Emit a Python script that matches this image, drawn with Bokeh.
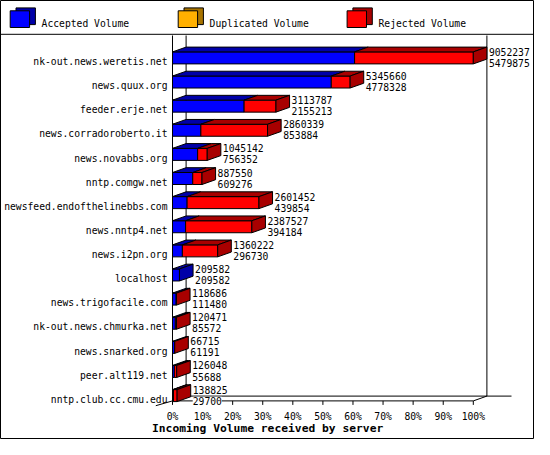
"""Incoming volume received by server: innreport-style 3D stacked bars."""

from bokeh.core.properties import value
from bokeh.embed import file_html
from bokeh.models import ColumnDataSource, Range1d
from bokeh.plotting import figure
from bokeh.resources import INLINE

servers = [
    "nk-out.news.weretis.net",
    "news.quux.org",
    "feeder.erje.net",
    "news.corradoroberto.it",
    "news.novabbs.org",
    "nntp.comgw.net",
    "newsfeed.endofthelinebbs.com",
    "news.nntp4.net",
    "news.i2pn.org",
    "localhost",
    "news.trigofacile.com",
    "nk-out.news.chmurka.net",
    "news.snarked.org",
    "peer.alt119.net",
    "nntp.club.cc.cmu.edu",
]
total = [9052237, 5345660, 3113787, 2860339, 1045142, 887550, 2601452,
         2387527, 1360222, 209582, 118686, 120471, 66715, 126048, 138825]
accepted = [5479875, 4778328, 2155213, 853884, 756352, 609276, 439854,
            394184, 296730, 209582, 111480, 85572, 61191, 55688, 29700]

pct_ticks = [0, 10, 20, 30, 40, 50, 60, 70, 80, 90, 100]
tick_labels = [f"{t}%" for t in pct_ticks]
legend_labels = ["Accepted Volume", "Duplicated Volume", "Rejected Volume"]
title_text = "Incoming Volume received by server"

BLUE, BLUE_D = "#0000FF", "#0000A8"
ORANGE, ORANGE_D = "#FFB000", "#A87400"
RED, RED_D = "#FF0000", "#A80000"
legend_colors = [(BLUE, BLUE_D), (ORANGE, ORANGE_D), (RED, RED_D)]

MONO = value("DejaVu Sans Mono")
FS = value("9.7px")

# canvas geometry (pixels); the data space is percent across, rows down
W, H = 534, 439
X0 = 172            # pixel of 0 %
PX = 3.008          # pixels per percent
ROW0, ROWH = 57.4, 24.12   # centre of first row, row pitch


def xd(px):
    return (px - X0) / PX


def yd(px):
    return (px - ROW0) / ROWH


DX = 13.6 / PX      # 3D depth, percent
DY = 4.8 / ROWH     # 3D depth, rows
HH = 6.0 / ROWH     # half bar height, rows
GAP = 2.0 / PX

p = figure(
    width=W, height=H,
    x_range=Range1d(xd(0), xd(W)),
    y_range=Range1d(yd(H), yd(0)),
    x_axis_location=None, y_axis_location=None,
    output_backend="svg", toolbar_location=None,
    min_border=0,
)
p.grid.visible = False
p.outline_line_color = "black"
p.background_fill_color = "white"
p.border_fill_color = "white"

rows = list(range(len(servers)))
floor_front = yd(400.4)
floor_back = floor_front - DY

# axis frame: front axes, back wall, floor
p.segment(
    x0=[0, 0, DX, 100 + DX, DX, 100, 0, xd(155.3)],
    y0=[yd(35), floor_front, yd(35), yd(35), floor_back, floor_front, floor_front, yd(405.2)],
    x1=[0, 100, DX, 100 + DX, xd(511), 100 + DX, DX, 0],
    y1=[yd(403.3), floor_front, floor_back, floor_back, floor_back, floor_back, floor_back,
        floor_front],
    line_color="black", line_width=1,
)
p.segment(x0=pct_ticks, x1=pct_ticks, y0=[floor_front] * len(pct_ticks),
          y1=[yd(404.4)] * len(pct_ticks), line_color="black", line_width=1)
p.text(x=pct_ticks, y=[yd(415.6)] * len(pct_ticks), text=tick_labels,
       text_font=MONO, text_font_size=FS, text_color="black",
       text_align="center", text_baseline="alphabetic")
p.text(x=[xd(X0 - 5)] * len(rows), y=[r + 0.152 for r in rows], text=servers,
       text_font=MONO, text_font_size=FS, text_color="black",
       text_align="right", text_baseline="alphabetic")

# bars
top_val = max(total)
xs, ys, fills = [], [], []
for i, (t, a) in enumerate(zip(total, accepted)):
    acc_pct = a / top_val * 100
    tot_pct = t / top_val * 100
    y_top, y_bot = i - HH, i + HH
    segs = [(0, acc_pct, BLUE, BLUE_D), (acc_pct, tot_pct, RED, RED_D)]
    segs = [s for s in segs if s[1] > s[0]]
    for x0, x1, c, cd in segs:
        xs.append([x0, x1, x1, x0])
        ys.append([y_top, y_top, y_bot, y_bot])
        fills.append(c)
        xs.append([x0, x1, x1 + DX, x0 + DX])
        ys.append([y_top, y_top, y_top - DY, y_top - DY])
        fills.append(cd)
    x1, cd = segs[-1][1], segs[-1][3]
    xs.append([x1, x1 + DX, x1 + DX, x1])
    ys.append([y_top, y_top - DY, y_bot - DY, y_bot])
    fills.append(cd)

p.patches(xs="xs", ys="ys", fill_color="fill", line_color="black",
          line_width=1, source=ColumnDataSource(dict(xs=xs, ys=ys, fill=fills)))

# value labels: total above, accepted below
lab_x, lab_y, lab_t = [], [], []
for i, (t, a) in enumerate(zip(total, accepted)):
    x = t / top_val * 100 + DX + GAP
    lab_x += [x, x]
    lab_y += [i - 0.248, i + 0.21]
    lab_t += [str(t), str(a)]
p.text(x="x", y="y", text="t", source=ColumnDataSource(dict(x=lab_x, y=lab_y, t=lab_t)),
       text_font=MONO, text_font_size=FS, text_color="black",
       text_baseline="alphabetic", text_align="left",
       background_fill_color="white")

# title under the axis
p.text(x=[xd(151.5)], y=[yd(428.4)], text=[title_text], text_font=MONO,
       text_font_size=value("11.3px"), text_font_style="bold",
       text_color="black", text_baseline="alphabetic")

# legend strip with 3D cubes
leg_x = [9.7, 177.7, 346.6]
bx, by, bfill = [], [], []
for k, (c, cd) in enumerate(legend_colors):
    fx = [leg_x[k], leg_x[k] + 19.4, leg_x[k] + 19.4, leg_x[k]]
    fy = [10.3, 10.3, 27.0, 27.0]
    bx.append([xd(v + 5.8) for v in fx])
    by.append([yd(v - 2.9) for v in fy])
    bfill.append(cd)
    bx.append([xd(v) for v in fx])
    by.append([yd(v) for v in fy])
    bfill.append(c)
p.patches(xs="xs", ys="ys", fill_color="fill", line_color="black", line_width=1,
          source=ColumnDataSource(dict(xs=bx, ys=by, fill=bfill)))
p.text(x=[xd(v + 31.4) for v in leg_x], y=[yd(23.2)] * 3, text=legend_labels,
       text_font=MONO, text_font_size=FS, text_color="black",
       text_baseline="alphabetic")
p.segment(x0=[xd(0)], x1=[xd(W)], y0=[yd(33.8)], y1=[yd(33.8)],
          line_color="black", line_width=1)

open("out.html", "w").write(file_html(p, INLINE))
